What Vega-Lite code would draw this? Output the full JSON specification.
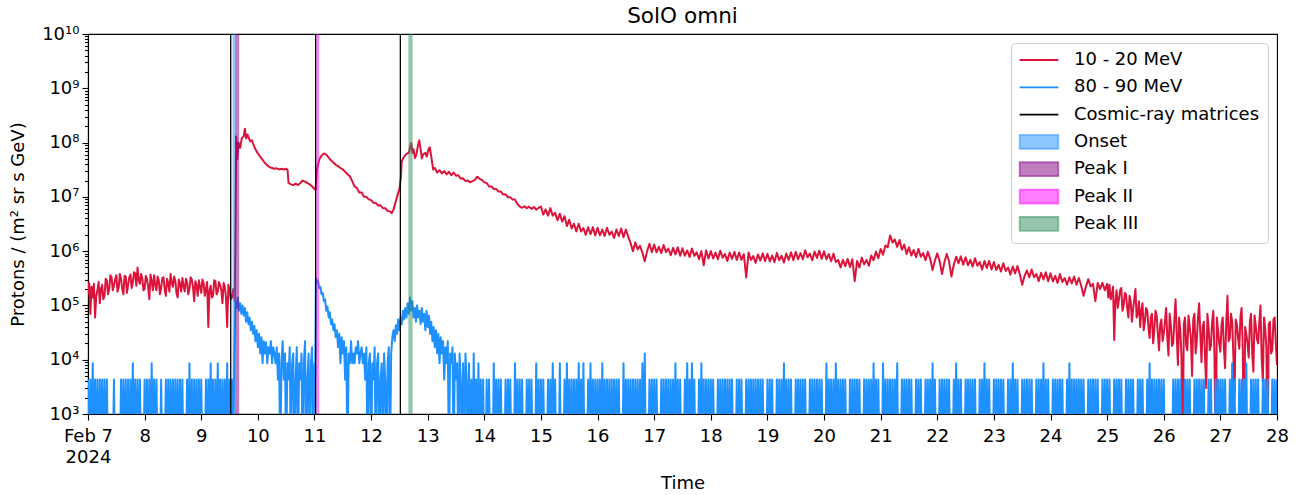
{
"$schema":"https://vega.github.io/schema/vega-lite/v6.json",
"width":1189,"height":380,
"autosize":{"type":"none"},
"padding":{"left":88,"top":34,"right":28,"bottom":81},
"background":"white",
"config":{
"font":"DejaVu Sans",
"view":{"stroke":"black","strokeWidth":1.1},
"axis":{"grid":false,"domainColor":"black","domainWidth":1.1,"tickColor":"black","tickWidth":1.1,"labelColor":"black","labelFont":"DejaVu Sans","labelFontSize":18,"titleColor":"black","titleFont":"DejaVu Sans","titleFontSize":18,"titleFontWeight":"normal","labelOverlap":false,"labelBound":false,"labelFlush":false}
},
"title":{"text":"SolO omni","fontSize":21.6,"fontWeight":"normal","font":"DejaVu Sans","color":"black","offset":-3,"anchor":"middle","frame":"group"},
"datasets":{
"red":[{"h":0,"v":1.6e5},{"h":0.5,"v":2.6e5},{"h":1,"v":7e4},{"h":1.5,"v":2.2e5},{"h":2,"v":1.4e5},{"h":2.5,"v":2.5e5},{"h":3,"v":6e4},{"h":3.5,"v":1.5e5},{"h":4,"v":1.9e5},{"h":4.5,"v":2.7e5},{"h":5,"v":1.1e5},{"h":5.5,"v":2e5},{"h":6,"v":2.4e5},{"h":6.5,"v":1.3e5},{"h":7,"v":1.5e5},{"h":7.5,"v":3.1e5},{"h":8,"v":2.9e5},{"h":8.5,"v":1.6e5},{"h":9,"v":2e5},{"h":9.5,"v":3.6e5},{"h":10,"v":3.3e5},{"h":10.5,"v":1.9e5},{"h":11,"v":2.3e5},{"h":11.5,"v":3e5},{"h":12,"v":3.6e5},{"h":12.5,"v":1.8e5},{"h":13,"v":2.1e5},{"h":13.5,"v":3.8e5},{"h":14,"v":3.1e5},{"h":14.5,"v":2e5},{"h":15,"v":1.6e5},{"h":15.5,"v":3.5e5},{"h":16,"v":3.4e5},{"h":16.5,"v":1.7e5},{"h":17,"v":2.4e5},{"h":17.5,"v":3.3e5},{"h":18,"v":3.7e5},{"h":18.5,"v":2.1e5},{"h":19,"v":2.6e5},{"h":19.5,"v":4.1e5},{"h":20,"v":3.9e5},{"h":20.5,"v":2.3e5},{"h":21,"v":5e5},{"h":21.5,"v":2.9e5},{"h":22,"v":2.5e5},{"h":22.5,"v":3.8e5},{"h":23,"v":3.2e5},{"h":23.5,"v":1.9e5},
{"h":24,"v":2e5},{"h":24.5,"v":3.5e5},{"h":25,"v":3.1e5},{"h":25.5,"v":2.2e5},{"h":26,"v":1.3e5},{"h":26.5,"v":3.7e5},{"h":27,"v":2.8e5},{"h":27.5,"v":1.9e5},{"h":28,"v":3.6e5},{"h":28.5,"v":2.4e5},{"h":29,"v":1.9e5},{"h":29.5,"v":3.4e5},{"h":30,"v":2.9e5},{"h":30.5,"v":1.6e5},{"h":31,"v":2.1e5},{"h":31.5,"v":3.2e5},{"h":32,"v":3.3e5},{"h":32.5,"v":2e5},{"h":33,"v":1.5e5},{"h":33.5,"v":3.1e5},{"h":34,"v":2.6e5},{"h":34.5,"v":1.8e5},{"h":35,"v":3.8e5},{"h":35.5,"v":2.6e5},{"h":36,"v":2.2e5},{"h":36.5,"v":3.4e5},{"h":37,"v":2.9e5},{"h":37.5,"v":1.7e5},{"h":38,"v":1.4e5},{"h":38.5,"v":3e5},{"h":39,"v":2.5e5},{"h":39.5,"v":1.8e5},{"h":40,"v":3.2e5},{"h":40.5,"v":2.3e5},{"h":41,"v":1.8e5},{"h":41.5,"v":3.1e5},{"h":42,"v":2.7e5},{"h":42.5,"v":1.6e5},{"h":43,"v":2e5},{"h":43.5,"v":3.3e5},{"h":44,"v":3e5},{"h":44.5,"v":2.2e5},{"h":45,"v":1.2e5},{"h":45.5,"v":2.8e5},{"h":46,"v":2.4e5},{"h":46.5,"v":1.5e5},{"h":47,"v":2.9e5},{"h":47.5,"v":2.2e5},
{"h":48,"v":1.7e5},{"h":48.5,"v":3e5},{"h":49,"v":2.6e5},{"h":49.5,"v":1.5e5},{"h":50,"v":2e5},{"h":50.5,"v":2.7e5},{"h":51,"v":4e4},{"h":51.5,"v":1.9e5},{"h":52,"v":2.3e5},{"h":52.5,"v":1.4e5},{"h":53,"v":1.5e5},{"h":53.5,"v":2.9e5},{"h":54,"v":2.8e5},{"h":54.5,"v":1.6e5},{"h":55,"v":1.8e5},{"h":55.5,"v":2.7e5},{"h":56,"v":2.4e5},{"h":56.5,"v":1.9e5},{"h":57,"v":1.1e5},{"h":57.5,"v":2.6e5},{"h":58,"v":2.2e5},{"h":58.5,"v":1.4e5},{"h":59,"v":4e4},{"h":59.5,"v":2.4e5},{"h":60,"v":1.9e5},{"h":60.5,"v":1.3e5},{"h":61,"v":1.4e5},{"h":61.6,"v":2e5},{"h":62.2,"v":1.2e5},{"h":62.5,"v":3e6},{"h":62.8,"v":1.3e8},{"h":63.3,"v":5e7},{"h":63.8,"v":1e8},{"h":64.5,"v":8e7},{"h":65.2,"v":1.2e8},{"h":66,"v":1.3e8},{"h":66.5,"v":1.8e8},{"h":67,"v":1.2e8},{"h":67.6,"v":1.4e8},{"h":68.2,"v":1.2e8},{"h":68.8,"v":1.05e8},{"h":69.5,"v":1.1e8},{"h":70,"v":9.5e7},{"h":71,"v":7.5e7},
{"h":72,"v":6.3e7},{"h":73,"v":5.5e7},{"h":74,"v":4.8e7},{"h":75,"v":4.2e7},{"h":76,"v":3.8e7},{"h":77,"v":3.5e7},{"h":78,"v":3.4e7},{"h":79,"v":3.3e7},{"h":80,"v":3.35e7},{"h":81,"v":3.2e7},{"h":82,"v":3.3e7},{"h":83,"v":3.2e7},{"h":84,"v":3.3e7},{"h":84.6,"v":3.1e7},{"h":85,"v":1.8e7},{"h":86,"v":1.7e7},{"h":87,"v":1.65e7},{"h":88,"v":1.75e7},{"h":89,"v":1.65e7},{"h":90,"v":1.8e7},{"h":91,"v":2e7},{"h":92,"v":1.9e7},{"h":93,"v":1.8e7},{"h":94,"v":1.7e7},{"h":95,"v":1.55e7},{"h":96,"v":1.4e7},{"h":96.5,"v":1.35e7},
{"h":97,"v":3.2e7},{"h":98,"v":4.8e7},{"h":99,"v":5.8e7},{"h":100,"v":6.3e7},{"h":101,"v":6e7},{"h":102,"v":5.3e7},{"h":103,"v":4.7e7},{"h":104,"v":4.3e7},{"h":105,"v":3.9e7},{"h":106,"v":3.7e7},{"h":107,"v":3.4e7},{"h":108,"v":3.2e7},{"h":109,"v":2.9e7},{"h":110,"v":2.6e7},{"h":111,"v":2.4e7},{"h":112,"v":1.95e7},{"h":113,"v":1.55e7},{"h":114,"v":1.45e7},{"h":115,"v":1.2e7},{"h":116,"v":1.2e7},{"h":117,"v":1e7},{"h":118,"v":1e7},{"h":119,"v":9e6},
{"h":120,"v":8.7e6},{"h":121,"v":7.8e6},{"h":122,"v":7.7e6},{"h":123,"v":6.9e6},{"h":124,"v":7e6},{"h":125,"v":6.2e6},{"h":126,"v":6.2e6},{"h":127,"v":5.5e6},{"h":128,"v":5.4e6},{"h":128.7,"v":5e6},{"h":129.5,"v":5.8e6},{"h":130,"v":7e6},{"h":131,"v":1e7},{"h":132,"v":1.4e7},{"h":132.6,"v":2.2e7},{"h":133,"v":4.5e7},{"h":134,"v":5.5e7},{"h":135,"v":6.2e7},{"h":136,"v":6.5e7},{"h":136.5,"v":8e7},{"h":137,"v":9.8e7},{"h":137.5,"v":6.5e7},{"h":138,"v":7.5e7},{"h":138.6,"v":5.2e7},{"h":139.2,"v":6e7},{"h":139.8,"v":8.5e7},{"h":140.4,"v":1.1e8},{"h":141,"v":7.5e7},{"h":141.5,"v":5.1e7},{"h":142,"v":6e7},{"h":143,"v":6.5e7},{"h":143.6,"v":5.5e7},
{"h":144.3,"v":7.5e7},{"h":144.9,"v":8.2e7},{"h":145.5,"v":5.5e7},{"h":146.3,"v":3.2e7},{"h":147,"v":3.4e7},{"h":148,"v":2.8e7},{"h":149,"v":3.1e7},{"h":150,"v":2.7e7},{"h":151,"v":3e7},{"h":152,"v":2.6e7},{"h":153,"v":2.9e7},{"h":154,"v":2.5e7},{"h":155,"v":2.8e7},{"h":156,"v":2.45e7},{"h":157,"v":2.5e7},{"h":158,"v":2.15e7},{"h":159,"v":2.2e7},{"h":160,"v":1.95e7},{"h":161,"v":2e7},{"h":162,"v":1.85e7},{"h":163,"v":1.95e7},{"h":164,"v":2.05e7},{"h":165,"v":2.35e7},{"h":166,"v":2.15e7},{"h":167,"v":2.05e7},
{"h":168,"v":1.85e7},{"h":169,"v":1.8e7},{"h":170,"v":1.55e7},{"h":171,"v":1.55e7},{"h":172,"v":1.4e7},{"h":173,"v":1.4e7},{"h":174,"v":1.25e7},{"h":175,"v":1.25e7},{"h":176,"v":1.1e7},{"h":177,"v":1.12e7},{"h":178,"v":9.8e6},{"h":179,"v":9.8e6},{"h":180,"v":8.9e6},{"h":181,"v":8.9e6},{"h":182,"v":7.4e6},{"h":183,"v":6.6e6},{"h":184,"v":6.3e6},{"h":185,"v":6.7e6},{"h":186,"v":6.2e6},{"h":187,"v":6.6e6},{"h":188,"v":6e6},{"h":189,"v":6.5e6},{"h":190,"v":5.8e6},{"h":191,"v":6.3e6},
{"h":192,"v":6.6e6},{"h":193,"v":4.7e6},{"h":194,"v":5.9e6},{"h":195,"v":4.5e6},{"h":196,"v":6.2e6},{"h":197,"v":4.5e6},{"h":198,"v":5.1e6},{"h":199,"v":3.7e6},{"h":200,"v":4.9e6},{"h":201,"v":3.5e6},{"h":202,"v":4.4e6},{"h":203,"v":2.9e6},{"h":204,"v":3.8e6},{"h":205,"v":2.6e6},{"h":206,"v":3.2e6},{"h":207,"v":2.3e6},{"h":208,"v":3.2e6},{"h":209,"v":2.3e6},{"h":210,"v":2.65e6},{"h":211,"v":2e6},{"h":212,"v":2.75e6},{"h":213,"v":2.05e6},{"h":214,"v":2.75e6},{"h":215,"v":1.95e6},
{"h":216,"v":2.7e6},{"h":217,"v":1.95e6},{"h":218,"v":2.5e6},{"h":219,"v":1.9e6},{"h":220,"v":2.7e6},{"h":221,"v":2e6},{"h":222,"v":2.3e6},{"h":223,"v":1.75e6},{"h":224,"v":2.5e6},{"h":225,"v":1.9e6},{"h":226,"v":2.6e6},{"h":227,"v":1.8e6},{"h":228,"v":2.5e6},{"h":229,"v":1.85e6},{"h":230,"v":1.4e6},{"h":231,"v":1e6},{"h":232,"v":1.45e6},{"h":233,"v":1.08e6},{"h":234,"v":1.25e6},{"h":235,"v":9.4e5},{"h":236,"v":6.5e5},{"h":237,"v":1e6},{"h":238,"v":1.37e6},{"h":239,"v":9.6e5},
{"h":240,"v":1.32e6},{"h":241,"v":9.5e5},{"h":242,"v":1.2e6},{"h":243,"v":9.2e5},{"h":244,"v":1.3e6},{"h":245,"v":9.6e5},{"h":246,"v":1.12e6},{"h":247,"v":8.4e5},{"h":248,"v":1.15e6},{"h":249,"v":8.7e5},{"h":250,"v":1.18e6},{"h":251,"v":8.2e5},{"h":252,"v":1.13e6},{"h":253,"v":8.2e5},{"h":254,"v":1.03e6},{"h":255,"v":7.8e5},{"h":256,"v":1.12e6},{"h":257,"v":8.2e5},{"h":258,"v":9.5e5},{"h":259,"v":7.1e5},{"h":260,"v":1e6},{"h":261,"v":5.5e5},{"h":262,"v":1.03e6},{"h":263,"v":7.3e5},
{"h":264,"v":1e6},{"h":265,"v":7.3e5},{"h":266,"v":9.4e5},{"h":267,"v":7.1e5},{"h":268,"v":1.02e6},{"h":269,"v":7.6e5},{"h":270,"v":8.8e5},{"h":271,"v":6.6e5},{"h":272,"v":9.4e5},{"h":273,"v":7.2e5},{"h":274,"v":9.7e5},{"h":275,"v":6.9e5},{"h":276,"v":9.4e5},{"h":277,"v":6.9e5},{"h":278,"v":8.8e5},{"h":279,"v":3.3e5},{"h":280,"v":9.4e5},{"h":281,"v":6.9e5},{"h":282,"v":8.1e5},{"h":283,"v":6.1e5},{"h":284,"v":8.7e5},{"h":285,"v":6.7e5},{"h":286,"v":9.1e5},{"h":287,"v":6.5e5},
{"h":288,"v":8.9e5},{"h":289,"v":6.5e5},{"h":290,"v":8.3e5},{"h":291,"v":6.3e5},{"h":292,"v":9.3e5},{"h":293,"v":6.8e5},{"h":294,"v":8.2e5},{"h":295,"v":6.2e5},{"h":296,"v":9e5},{"h":297,"v":6.9e5},{"h":298,"v":9.5e5},{"h":299,"v":6.8e5},{"h":300,"v":9.7e5},{"h":301,"v":7.1e5},{"h":302,"v":9.2e5},{"h":303,"v":7.1e5},{"h":304,"v":1.04e6},{"h":305,"v":7.7e5},{"h":306,"v":9e5},{"h":307,"v":6.8e5},{"h":308,"v":9.8e5},{"h":309,"v":7.5e5},{"h":310,"v":1.02e6},{"h":311,"v":7.2e5},
{"h":312,"v":9.9e5},{"h":313,"v":7.1e5},{"h":314,"v":8.8e5},{"h":315,"v":6.5e5},{"h":316,"v":9e5},{"h":317,"v":6.3e5},{"h":318,"v":6.9e5},{"h":319,"v":5e5},{"h":320,"v":6.9e5},{"h":321,"v":5.3e5},{"h":322,"v":7.2e5},{"h":323,"v":5.1e5},{"h":324,"v":7.1e5},{"h":325,"v":2.8e5},{"h":326,"v":6.6e5},{"h":327,"v":5e5},{"h":328,"v":7.6e5},{"h":329,"v":5.7e5},{"h":330,"v":6.9e5},{"h":331,"v":5.4e5},{"h":332,"v":8.3e5},{"h":333,"v":6.8e5},{"h":334,"v":9.8e5},{"h":335,"v":7.4e5},
{"h":336,"v":1.1e6},{"h":337,"v":8.6e5},{"h":338,"v":1.27e6},{"h":339,"v":1.18e6},{"h":340,"v":1.95e6},{"h":341,"v":1.44e6},{"h":342,"v":1.64e6},{"h":343,"v":1.2e6},{"h":344,"v":1.6e6},{"h":345,"v":1.06e6},{"h":346,"v":1.32e6},{"h":347,"v":8.9e5},{"h":348,"v":1.18e6},{"h":349,"v":8.3e5},{"h":350,"v":1.05e6},{"h":351,"v":7.7e5},{"h":352,"v":1.1e6},{"h":353,"v":7.9e5},{"h":354,"v":9.2e5},{"h":355,"v":6.8e5},{"h":356,"v":9.7e5},{"h":357,"v":7.2e5},{"h":358,"v":4.5e5},{"h":359,"v":6.7e5},
{"h":360,"v":9.1e5},{"h":361,"v":6.5e5},{"h":362,"v":3.8e5},{"h":363,"v":6.2e5},{"h":364,"v":8.9e5},{"h":365,"v":6.5e5},{"h":366,"v":3.4e5},{"h":367,"v":5.6e5},{"h":368,"v":7.9e5},{"h":369,"v":6e5},{"h":370,"v":8e5},{"h":371,"v":5.6e5},{"h":372,"v":7.7e5},{"h":373,"v":5.5e5},{"h":374,"v":6.9e5},{"h":375,"v":5.2e5},{"h":376,"v":7.4e5},{"h":377,"v":5.4e5},{"h":378,"v":6.3e5},{"h":379,"v":4.6e5},{"h":380,"v":6.6e5},{"h":381,"v":4.9e5},{"h":382,"v":6.6e5},{"h":383,"v":4.6e5},
{"h":384,"v":6.3e5},{"h":385,"v":4.5e5},{"h":386,"v":5.6e5},{"h":387,"v":4.2e5},{"h":388,"v":6e5},{"h":389,"v":4.3e5},{"h":390,"v":5e5},{"h":391,"v":3.7e5},{"h":392,"v":5.2e5},{"h":393,"v":3.9e5},{"h":394,"v":5.3e5},{"h":395,"v":3.7e5},{"h":396,"v":2.4e5},{"h":397,"v":3.5e5},{"h":398,"v":4.4e5},{"h":399,"v":3.3e5},{"h":400,"v":4.6e5},{"h":401,"v":3.3e5},{"h":402,"v":3.8e5},{"h":403,"v":2.8e5},{"h":404,"v":4e5},{"h":405,"v":3e5},{"h":406,"v":4.1e5},{"h":407,"v":2.8e5},
{"h":408,"v":3.9e5},{"h":409,"v":2.75e5},{"h":410,"v":3.5e5},{"h":411,"v":2.6e5},{"h":412,"v":3.8e5},{"h":413,"v":2.7e5},{"h":414,"v":3.2e5},{"h":415,"v":2.4e5},{"h":416,"v":3.3e5},{"h":417,"v":2.55e5},{"h":418,"v":3.4e5},{"h":419,"v":2.4e5},{"h":420,"v":3.2e5},{"h":421,"v":2.3e5},{"h":422,"v":1.5e5},{"h":423,"v":2.2e5},{"h":424,"v":3.05e5},{"h":425,"v":2.25e5},{"h":426,"v":2.5e5},{"h":427,"v":1.2e5},{"h":428,"v":2.6e5},{"h":429,"v":2e5},{"h":430,"v":2.6e5},{"h":431,"v":1.9e5},
{"h":432,"v":2.5e5},{"h":432.5,"v":1.4e5},{"h":433,"v":2.4e5},{"h":433.5,"v":1.3e5},{"h":434,"v":1.6e5},{"h":434.5,"v":2.2e5},{"h":435,"v":2.3e4},{"h":435.5,"v":1.2e5},{"h":436,"v":1.9e5},{"h":436.5,"v":9e4},{"h":437,"v":1.3e5},{"h":437.5,"v":1.9e5},{"h":438,"v":2.1e5},{"h":438.5,"v":8e4},{"h":439,"v":1e5},{"h":439.5,"v":1.7e5},{"h":440,"v":1.6e5},{"h":440.5,"v":9e4},{"h":441,"v":6e4},{"h":441.5,"v":1.5e5},{"h":442,"v":1.2e5},{"h":442.5,"v":5e4},{"h":443,"v":8.5e4},{"h":443.5,"v":1.3e5},{"h":444,"v":2e5},{"h":444.5,"v":6e4},{"h":445,"v":7e4},{"h":445.5,"v":1.2e5},{"h":446,"v":4e4},{"h":446.5,"v":8e4},{"h":447,"v":1.1e5},{"h":447.5,"v":3.5e4},{"h":448,"v":5e4},{"h":448.5,"v":9e4},{"h":449,"v":8e4},{"h":449.5,"v":4e4},{"h":450,"v":2.5e4},{"h":450.5,"v":6e4},{"h":451,"v":7e4},{"h":451.5,"v":2e4},{"h":452,"v":3.5e4},{"h":452.5,"v":8e4},{"h":453,"v":6.5e4},{"h":453.5,"v":3e4},{"h":454,"v":1.5e4},{"h":454.5,"v":4.5e4},{"h":455,"v":5.5e4},{"h":455.5,"v":2.2e4},
{"h":456,"v":3e4},{"h":456.5,"v":5e4},{"h":457,"v":9e4},{"h":457.5,"v":2.5e4},{"h":458,"v":1.2e4},{"h":458.5,"v":7e4},{"h":459,"v":4.5e4},{"h":459.5,"v":1.8e4},{"h":460,"v":2e4},{"h":460.5,"v":5.5e4},{"h":461,"v":1.3e5},{"h":461.5,"v":2.8e4},{"h":462,"v":8e3},{"h":462.5,"v":6e4},{"h":463,"v":3.5e4},{"h":463.5,"v":1.2e4},{"h":464,"v":100},{"h":464.5,"v":4.5e4},{"h":465,"v":6e4},{"h":465.5,"v":1.8e4},{"h":466,"v":1.5e4},{"h":466.5,"v":6.5e4},{"h":467,"v":4e4},{"h":467.5,"v":2.5e4},{"h":468,"v":5e3},{"h":468.5,"v":5.5e4},{"h":469,"v":7e4},{"h":469.5,"v":1.3e4},{"h":470,"v":2.2e4},{"h":470.5,"v":6e4},{"h":471,"v":1.1e5},{"h":471.5,"v":3e4},{"h":472,"v":9e3},{"h":472.5,"v":4e4},{"h":473,"v":5e4},{"h":473.5,"v":1.1e4},{"h":474,"v":3e3},{"h":474.5,"v":7e4},{"h":475,"v":4e4},{"h":475.5,"v":1.5e4},{"h":476,"v":1.8e4},{"h":476.5,"v":5e4},{"h":477,"v":8e4},{"h":477.5,"v":1.2e4},{"h":478,"v":100},{"h":478.5,"v":6e4},{"h":479,"v":3.5e4},{"h":479.5,"v":2e4},
{"h":480,"v":1.4e4},{"h":480.5,"v":4.5e4},{"h":481,"v":6e4},{"h":481.5,"v":1.6e4},{"h":482,"v":7e3},{"h":482.5,"v":5e4},{"h":483,"v":1.5e5},{"h":483.5,"v":2.2e4},{"h":484,"v":2.5e4},{"h":484.5,"v":7e4},{"h":485,"v":5e4},{"h":485.5,"v":1.2e4},{"h":486,"v":2e3},{"h":486.5,"v":5.5e4},{"h":487,"v":4.5e4},{"h":487.5,"v":2.5e4},{"h":488,"v":1.6e4},{"h":488.5,"v":6e4},{"h":489,"v":9e4},{"h":489.5,"v":1.5e4},{"h":490,"v":100},{"h":490.5,"v":4e4},{"h":491,"v":3e4},{"h":491.5,"v":2e4},{"h":492,"v":1.1e4},{"h":492.5,"v":5e4},{"h":493,"v":7e4},{"h":493.5,"v":1.3e4},{"h":494,"v":6e3},{"h":494.5,"v":6.5e4},{"h":495,"v":4.2e4},{"h":495.5,"v":2.4e4},{"h":496,"v":2e4},{"h":496.5,"v":5e4},{"h":497,"v":1e5},{"h":497.5,"v":1.1e4},{"h":498,"v":4e3},{"h":498.5,"v":6e4},{"h":499,"v":3.8e4},{"h":499.5,"v":1.7e4},{"h":500,"v":100},{"h":500.5,"v":4.5e4},{"h":501,"v":5e4},{"h":501.5,"v":1.3e4},{"h":502,"v":1.5e4},{"h":502.5,"v":5.5e4},{"h":503,"v":6e4},{"h":503.5,"v":2e4},{"h":504,"v":8e3}],
"blue":[{"h":0,"v":4300},{"h":0.5,"v":100},{"h":1,"v":4300},{"h":1.5,"v":100},{"h":2,"v":8600},{"h":2.5,"v":100},{"h":3,"v":4300},{"h":3.5,"v":100},{"h":4,"v":4300},{"h":4.5,"v":100},{"h":5,"v":4300},{"h":5.5,"v":100},{"h":6,"v":4300},{"h":6.5,"v":100},{"h":7,"v":4300},{"h":7.5,"v":100},{"h":8,"v":4300},{"h":8.5,"v":100},{"h":9.5,"v":100},{"h":10.5,"v":100},{"h":11,"v":4300},{"h":11.5,"v":100},{"h":12.5,"v":100},{"h":13.5,"v":100},{"h":14,"v":4300},{"h":14.5,"v":100},{"h":15,"v":4300},{"h":15.5,"v":100},{"h":16,"v":4300},{"h":16.5,"v":100},{"h":17,"v":4300},{"h":17.5,"v":100},{"h":18,"v":4300},{"h":18.5,"v":100},{"h":19,"v":8600},{"h":19.5,"v":100},{"h":20,"v":4300},{"h":20.5,"v":100},{"h":21,"v":4300},{"h":21.5,"v":100},{"h":22,"v":4300},{"h":22.5,"v":100},{"h":23.5,"v":100},{"h":24,"v":4300},{"h":24.5,"v":100},{"h":25,"v":4300},{"h":25.5,"v":100},{"h":26,"v":4300},{"h":26.5,"v":100},{"h":27,"v":8600},{"h":27.5,"v":100},{"h":28,"v":4300},{"h":28.5,"v":100},{"h":29,"v":4300},{"h":29.5,"v":100},{"h":30.5,"v":100},{"h":31,"v":4300},{"h":31.5,"v":100},{"h":32.5,"v":100},{"h":33,"v":4300},{"h":33.5,"v":100},{"h":34,"v":4300},{"h":34.5,"v":100},{"h":35,"v":4300},{"h":35.5,"v":100},{"h":36,"v":4300},{"h":36.5,"v":100},{"h":37,"v":4300},{"h":37.5,"v":100},{"h":38,"v":4300},{"h":38.5,"v":100},{"h":39,"v":4300},{"h":39.5,"v":100},{"h":40,"v":4300},{"h":40.5,"v":100},{"h":41.5,"v":100},{"h":42,"v":4300},{"h":42.5,"v":100},{"h":43,"v":8600},{"h":43.5,"v":100},{"h":44,"v":4300},{"h":44.5,"v":100},{"h":45,"v":4300},{"h":45.5,"v":100},{"h":46,"v":4300},{"h":46.5,"v":100},{"h":47,"v":4300},{"h":47.5,"v":100},{"h":48,"v":4300},{"h":48.5,"v":100},{"h":49.5,"v":100},{"h":50,"v":4300},{"h":50.5,"v":100},{"h":51,"v":4300},{"h":51.5,"v":100},{"h":52,"v":8600},{"h":52.5,"v":100},{"h":53,"v":4300},{"h":53.5,"v":100},{"h":54,"v":4300},{"h":54.5,"v":100},{"h":55,"v":8600},{"h":55.5,"v":100},{"h":56,"v":4300},{"h":56.5,"v":100},{"h":57,"v":4300},{"h":57.5,"v":100},{"h":58,"v":4300},{"h":58.5,"v":100},{"h":59,"v":8600},{"h":59.5,"v":100},{"h":60,"v":4300},{"h":60.5,"v":100},
{"h":61,"v":4300},{"h":61.5,"v":100},{"h":62,"v":1.3e4},{"h":62.5,"v":1.2e5},{"h":63,"v":9e4},{"h":63.5,"v":1.4e5},{"h":64,"v":8e4},{"h":64.5,"v":1.1e5},{"h":65,"v":7e4},{"h":65.5,"v":1e5},{"h":66,"v":6.5e4},{"h":66.5,"v":9e4},{"h":67,"v":5e4},{"h":67.5,"v":7.5e4},{"h":68,"v":4.5e4},{"h":68.5,"v":6e4},{"h":69,"v":3.5e4},{"h":69.5,"v":5e4},{"h":70,"v":3e4},{"h":70.5,"v":4.2e4},{"h":71,"v":2.2e4},{"h":71.5,"v":3.5e4},{"h":72,"v":1.7e4},{"h":72.5,"v":3e4},{"h":73,"v":1.3e4},{"h":73.5,"v":2.6e4},{"h":74,"v":8600},{"h":74.5,"v":2.2e4},{"h":75,"v":1.3e4},{"h":75.5,"v":2.1e4},{"h":76,"v":8600},{"h":76.5,"v":1.7e4},{"h":77,"v":1.3e4},{"h":77.5,"v":2.2e4},{"h":78,"v":8600},{"h":78.5,"v":1.7e4},{"h":79,"v":1.3e4},{"h":79.5,"v":8600},{"h":80,"v":1.7e4},{"h":80.5,"v":4300},{"h":81,"v":1.3e4},{"h":81.5,"v":100},{"h":82,"v":8600},{"h":82.5,"v":2.2e4},{"h":83,"v":4300},{"h":83.5,"v":1.3e4},{"h":84,"v":100},{"h":84.5,"v":8600},{"h":85,"v":4300},{"h":85.5,"v":1.7e4},{"h":86,"v":100},{"h":86.5,"v":8600},{"h":87,"v":1.3e4},{"h":87.5,"v":100},{"h":88,"v":4300},{"h":88.5,"v":1.7e4},{"h":89,"v":100},{"h":89.5,"v":8600},{"h":90,"v":4300},{"h":90.5,"v":1.3e4},{"h":91,"v":100},{"h":91.5,"v":8600},{"h":92,"v":2.2e4},{"h":92.5,"v":100},{"h":93,"v":4300},{"h":93.5,"v":1.3e4},{"h":94,"v":100},{"h":94.5,"v":8600},{"h":95,"v":1.7e4},{"h":95.5,"v":100},{"h":96,"v":8600},{"h":96.3,"v":4300},{"h":96.6,"v":3.2e5},{"h":97,"v":2.6e5},{"h":97.5,"v":2.9e5},{"h":98,"v":2.1e5},{"h":98.5,"v":2.2e5},{"h":99,"v":1.6e5},{"h":99.5,"v":1.7e5},{"h":100,"v":1.2e5},{"h":100.5,"v":1.3e5},{"h":101,"v":8e4},{"h":101.5,"v":9.5e4},{"h":102,"v":6e4},{"h":102.5,"v":7.5e4},{"h":103,"v":4.5e4},{"h":103.5,"v":5.5e4},{"h":104,"v":3.5e4},{"h":104.5,"v":4.5e4},{"h":105,"v":2.6e4},{"h":105.5,"v":3.5e4},{"h":106,"v":1.7e4},{"h":106.5,"v":3e4},{"h":107,"v":8600},{"h":107.5,"v":2.6e4},{"h":108,"v":1.3e4},{"h":108.5,"v":2.2e4},{"h":109,"v":4300},{"h":109.5,"v":1.7e4},{"h":110,"v":100},{"h":110.5,"v":1.3e4},{"h":111,"v":8600},{"h":111.5,"v":2.2e4},{"h":112,"v":8600},{"h":112.5,"v":1.3e4},{"h":113,"v":8600},{"h":113.5,"v":1.7e4},{"h":114,"v":1.3e4},{"h":114.5,"v":2.2e4},{"h":115,"v":8600},{"h":115.5,"v":1.3e4},{"h":116,"v":1.7e4},{"h":116.5,"v":8600},{"h":117,"v":1.3e4},{"h":117.5,"v":4300},{"h":118,"v":1.7e4},{"h":118.5,"v":100},{"h":119,"v":8600},{"h":119.5,"v":1.3e4},{"h":120,"v":100},{"h":120.5,"v":8600},{"h":121,"v":4300},{"h":121.5,"v":1.7e4},{"h":122,"v":100},{"h":122.5,"v":8600},{"h":123,"v":1.3e4},{"h":123.5,"v":100},{"h":124,"v":4300},{"h":124.5,"v":8600},{"h":125,"v":100},{"h":125.5,"v":1.3e4},{"h":126,"v":4300},{"h":126.5,"v":100},{"h":127,"v":8600},{"h":127.5,"v":1.7e4},{"h":128,"v":100},{"h":128.5,"v":1.3e4},{"h":129,"v":2.6e4},{"h":129.5,"v":3.5e4},{"h":130,"v":2.2e4},{"h":130.5,"v":4.3e4},{"h":131,"v":3e4},{"h":131.5,"v":5.5e4},{"h":132,"v":3.5e4},{"h":132.5,"v":6e4},{"h":133,"v":4.5e4},{"h":133.5,"v":8e4},{"h":134,"v":5.5e4},{"h":134.5,"v":9e4},{"h":135,"v":6e4},{"h":135.5,"v":1.1e5},{"h":136,"v":7e4},{"h":136.5,"v":1.4e5},{"h":137,"v":8e4},{"h":137.5,"v":1.2e5},{"h":138,"v":6e4},{"h":138.5,"v":9e4},{"h":139,"v":5e4},{"h":139.5,"v":1e5},{"h":140,"v":6e4},{"h":140.5,"v":8e4},{"h":141,"v":4.5e4},{"h":141.5,"v":9e4},{"h":142,"v":5e4},{"h":142.5,"v":7e4},{"h":143,"v":3.5e4},{"h":143.5,"v":8e4},{"h":144,"v":4e4},{"h":144.5,"v":6.5e4},{"h":145,"v":3e4},{"h":145.5,"v":5e4},{"h":146,"v":2.2e4},{"h":146.5,"v":4e4},{"h":147,"v":1.7e4},{"h":147.5,"v":3.5e4},{"h":148,"v":1.3e4},{"h":148.5,"v":3e4},{"h":149,"v":8600},{"h":149.5,"v":2.6e4},{"h":150,"v":1.3e4},{"h":150.5,"v":2.2e4},{"h":151,"v":4300},{"h":151.5,"v":1.7e4},{"h":152,"v":8600},{"h":152.5,"v":2.2e4},{"h":153,"v":100},{"h":153.5,"v":1.3e4},{"h":154,"v":8600},{"h":154.5,"v":1.7e4},{"h":155,"v":100},{"h":155.5,"v":1.3e4},{"h":156,"v":4300},{"h":156.5,"v":8600},{"h":157,"v":100},{"h":157.5,"v":1.3e4},{"h":158,"v":4300},{"h":158.5,"v":100},{"h":159,"v":8600},{"h":159.5,"v":100},{"h":160,"v":1.3e4},{"h":160.5,"v":4300},{"h":161,"v":100},{"h":161.5,"v":8600},{"h":162,"v":100},{"h":162.5,"v":4300},{"h":163,"v":100},{"h":163.5,"v":1.3e4},{"h":164,"v":100},{"h":164.5,"v":4300},{"h":165,"v":100},{"h":165.5,"v":8600},{"h":166,"v":100},{"h":166.5,"v":4300},{"h":167,"v":100},{"h":167.5,"v":4300},{"h":168,"v":100},
{"h":168.5,"v":100},{"h":169,"v":4300},{"h":169.5,"v":100},{"h":170,"v":4300},{"h":170.5,"v":100},{"h":171.5,"v":100},{"h":172,"v":8600},{"h":172.5,"v":100},{"h":173,"v":4300},{"h":173.5,"v":100},{"h":174,"v":4300},{"h":174.5,"v":100},{"h":175,"v":4300},{"h":175.5,"v":100},{"h":176.5,"v":100},{"h":177,"v":4300},{"h":177.5,"v":100},{"h":178,"v":4300},{"h":178.5,"v":100},{"h":179,"v":4300},{"h":179.5,"v":100},{"h":180.5,"v":100},{"h":181,"v":8600},{"h":181.5,"v":100},{"h":182,"v":4300},{"h":182.5,"v":100},{"h":183,"v":4300},{"h":183.5,"v":100},{"h":184,"v":4300},{"h":184.5,"v":100},{"h":185.5,"v":100},{"h":186,"v":4300},{"h":186.5,"v":100},{"h":187,"v":4300},{"h":187.5,"v":100},{"h":188,"v":4300},{"h":188.5,"v":100},{"h":189.5,"v":100},{"h":190,"v":8600},{"h":190.5,"v":100},{"h":191,"v":4300},{"h":191.5,"v":100},{"h":192,"v":4300},{"h":192.5,"v":100},{"h":193,"v":4300},{"h":193.5,"v":100},{"h":194.5,"v":100},{"h":195,"v":4300},{"h":195.5,"v":100},{"h":196,"v":4300},{"h":196.5,"v":100},{"h":197,"v":8600},{"h":197.5,"v":100},{"h":198,"v":4300},{"h":198.5,"v":100},{"h":199.5,"v":100},
{"h":200,"v":8600},{"h":200.5,"v":100},{"h":201.5,"v":100},{"h":202,"v":4300},{"h":202.5,"v":100},{"h":203,"v":8600},{"h":203.5,"v":100},{"h":204,"v":4300},{"h":204.5,"v":100},{"h":205,"v":4300},{"h":205.5,"v":100},{"h":206,"v":4300},{"h":206.5,"v":100},{"h":207,"v":4300},{"h":207.5,"v":100},{"h":208,"v":8600},{"h":208.5,"v":100},{"h":209,"v":4300},{"h":209.5,"v":100},{"h":210,"v":8600},{"h":210.5,"v":100},{"h":211.5,"v":100},{"h":212,"v":4300},{"h":212.5,"v":100},{"h":213,"v":8600},{"h":213.5,"v":100},{"h":214,"v":4300},{"h":214.5,"v":100},{"h":215,"v":4300},{"h":215.5,"v":100},{"h":216,"v":4300},{"h":216.5,"v":100},{"h":217,"v":4300},{"h":217.5,"v":100},{"h":218,"v":8600},{"h":218.5,"v":100},{"h":219,"v":4300},{"h":219.5,"v":100},{"h":220,"v":4300},{"h":220.5,"v":100},{"h":221,"v":4300},{"h":221.5,"v":100},{"h":222,"v":4300},{"h":222.5,"v":100},{"h":223,"v":4300},{"h":223.5,"v":100},{"h":224,"v":4300},{"h":224.5,"v":100},{"h":225,"v":4300},{"h":225.5,"v":100},{"h":226.5,"v":100},{"h":227,"v":8600},{"h":227.5,"v":100},{"h":228,"v":4300},{"h":228.5,"v":100},{"h":229,"v":4300},{"h":229.5,"v":100},{"h":230,"v":4300},{"h":230.5,"v":100},{"h":231,"v":4300},{"h":231.5,"v":100},{"h":232,"v":4300},{"h":232.5,"v":100},{"h":233,"v":4300},{"h":233.5,"v":100},{"h":234,"v":4300},{"h":234.5,"v":100},{"h":235,"v":8600},{"h":235.5,"v":100},{"h":236,"v":13000},{"h":236.5,"v":100},{"h":237.5,"v":100},{"h":238,"v":4300},{"h":238.5,"v":100},{"h":239,"v":4300},{"h":239.5,"v":100},{"h":240,"v":4300},{"h":240.5,"v":100},{"h":241,"v":4300},{"h":241.5,"v":100},{"h":242.5,"v":100},{"h":243,"v":4300},{"h":243.5,"v":100},{"h":244,"v":4300},{"h":244.5,"v":100},{"h":245,"v":4300},{"h":245.5,"v":100},{"h":246,"v":4300},{"h":246.5,"v":100},{"h":247,"v":4300},{"h":247.5,"v":100},{"h":248,"v":4300},{"h":248.5,"v":100},{"h":249,"v":8600},{"h":249.5,"v":100},{"h":250,"v":4300},{"h":250.5,"v":100},{"h":251,"v":4300},{"h":251.5,"v":100},{"h":252.5,"v":100},{"h":253,"v":4300},{"h":253.5,"v":100},{"h":254,"v":8600},{"h":254.5,"v":100},{"h":255,"v":4300},{"h":255.5,"v":100},{"h":256,"v":8600},{"h":256.5,"v":100},{"h":257,"v":4300},{"h":257.5,"v":100},{"h":258.5,"v":100},{"h":259,"v":4300},{"h":259.5,"v":100},{"h":260,"v":8600},{"h":260.5,"v":100},{"h":261,"v":4300},{"h":261.5,"v":100},{"h":262,"v":4300},{"h":262.5,"v":100},{"h":263,"v":4300},{"h":263.5,"v":100},{"h":264,"v":4300},{"h":264.5,"v":100},{"h":265,"v":4300},{"h":265.5,"v":100},{"h":266.5,"v":100},{"h":267,"v":4300},{"h":267.5,"v":100},{"h":268,"v":4300},{"h":268.5,"v":100},{"h":269,"v":4300},{"h":269.5,"v":100},{"h":270,"v":4300},{"h":270.5,"v":100},{"h":271,"v":4300},{"h":271.5,"v":100},{"h":272,"v":4300},{"h":272.5,"v":100},{"h":273,"v":4300},{"h":273.5,"v":100},{"h":274.5,"v":100},{"h":275,"v":4300},{"h":275.5,"v":100},{"h":276,"v":4300},{"h":276.5,"v":100},{"h":277,"v":4300},{"h":277.5,"v":100},{"h":278.5,"v":100},{"h":279,"v":4300},{"h":279.5,"v":100},{"h":280,"v":4300},{"h":280.5,"v":100},{"h":281,"v":4300},{"h":281.5,"v":100},{"h":282,"v":4300},{"h":282.5,"v":100},{"h":283,"v":4300},{"h":283.5,"v":100},{"h":284,"v":4300},{"h":284.5,"v":100},{"h":285,"v":4300},{"h":285.5,"v":100},{"h":286,"v":4300},{"h":286.5,"v":100},{"h":287.5,"v":100},{"h":288,"v":4300},{"h":288.5,"v":100},{"h":289,"v":4300},{"h":289.5,"v":100},{"h":290,"v":4300},{"h":290.5,"v":100},{"h":291.5,"v":100},{"h":292,"v":4300},{"h":292.5,"v":100},{"h":293,"v":4300},{"h":293.5,"v":100},{"h":294,"v":4300},{"h":294.5,"v":100},{"h":295,"v":8600},{"h":295.5,"v":100},{"h":296,"v":4300},{"h":296.5,"v":100},{"h":297,"v":4300},{"h":297.5,"v":100},{"h":298,"v":4300},{"h":298.5,"v":100},{"h":299.5,"v":100},{"h":300,"v":4300},{"h":300.5,"v":100},{"h":301,"v":4300},{"h":301.5,"v":100},{"h":302,"v":4300},{"h":302.5,"v":100},{"h":303,"v":4300},{"h":303.5,"v":100},{"h":304,"v":4300},{"h":304.5,"v":100},{"h":305.5,"v":100},{"h":306,"v":4300},{"h":306.5,"v":100},{"h":307,"v":4300},{"h":307.5,"v":100},{"h":308,"v":4300},{"h":308.5,"v":100},{"h":309,"v":4300},{"h":309.5,"v":100},{"h":310,"v":4300},{"h":310.5,"v":100},{"h":311,"v":4300},{"h":311.5,"v":100},{"h":312.5,"v":100},{"h":313,"v":8600},{"h":313.5,"v":100},{"h":314,"v":4300},{"h":314.5,"v":100},{"h":315,"v":4300},{"h":315.5,"v":100},{"h":316,"v":4300},{"h":316.5,"v":100},{"h":317,"v":8600},{"h":317.5,"v":100},{"h":318,"v":4300},{"h":318.5,"v":100},{"h":319,"v":4300},{"h":319.5,"v":100},{"h":320,"v":4300},{"h":320.5,"v":100},{"h":321,"v":4300},{"h":321.5,"v":100},{"h":322.5,"v":100},{"h":323,"v":4300},{"h":323.5,"v":100},{"h":324,"v":4300},{"h":324.5,"v":100},{"h":325,"v":4300},{"h":325.5,"v":100},{"h":326,"v":4300},{"h":326.5,"v":100},{"h":327,"v":4300},{"h":327.5,"v":100},{"h":328.5,"v":100},{"h":329,"v":4300},{"h":329.5,"v":100},{"h":330,"v":4300},{"h":330.5,"v":100},{"h":331,"v":4300},{"h":331.5,"v":100},{"h":332,"v":4300},{"h":332.5,"v":100},{"h":333,"v":8600},{"h":333.5,"v":100},{"h":334,"v":4300},{"h":334.5,"v":100},{"h":335,"v":4300},{"h":335.5,"v":100},{"h":336.5,"v":100},{"h":337,"v":8600},{"h":337.5,"v":100},{"h":338,"v":4300},{"h":338.5,"v":100},{"h":339,"v":4300},{"h":339.5,"v":100},{"h":340,"v":4300},{"h":340.5,"v":100},{"h":341,"v":4300},{"h":341.5,"v":100},{"h":342,"v":4300},{"h":342.5,"v":100},{"h":343,"v":8600},{"h":343.5,"v":100},{"h":344.5,"v":100},{"h":345,"v":4300},{"h":345.5,"v":100},{"h":346,"v":4300},{"h":346.5,"v":100},{"h":347,"v":4300},{"h":347.5,"v":100},{"h":348,"v":4300},{"h":348.5,"v":100},{"h":349,"v":4300},{"h":349.5,"v":100},{"h":350.5,"v":100},{"h":351,"v":4300},{"h":351.5,"v":100},{"h":352,"v":4300},{"h":352.5,"v":100},{"h":353,"v":4300},{"h":353.5,"v":100},{"h":354.5,"v":100},{"h":355,"v":4300},{"h":355.5,"v":100},{"h":356,"v":4300},{"h":356.5,"v":100},{"h":357,"v":4300},{"h":357.5,"v":100},{"h":358,"v":8600},{"h":358.5,"v":100},{"h":359,"v":4300},{"h":359.5,"v":100},{"h":360.5,"v":100},{"h":361,"v":4300},{"h":361.5,"v":100},{"h":362,"v":4300},{"h":362.5,"v":100},{"h":363,"v":4300},{"h":363.5,"v":100},{"h":364,"v":4300},{"h":364.5,"v":100},{"h":365,"v":4300},{"h":365.5,"v":100},{"h":366.5,"v":100},{"h":367,"v":4300},{"h":367.5,"v":100},{"h":368,"v":8600},{"h":368.5,"v":100},{"h":369,"v":4300},{"h":369.5,"v":100},{"h":370,"v":4300},{"h":370.5,"v":100},{"h":371.5,"v":100},{"h":372,"v":4300},{"h":372.5,"v":100},{"h":373,"v":4300},{"h":373.5,"v":100},{"h":374,"v":4300},{"h":374.5,"v":100},{"h":375,"v":4300},{"h":375.5,"v":100},{"h":376,"v":4300},{"h":376.5,"v":100},{"h":377.5,"v":100},{"h":378,"v":4300},{"h":378.5,"v":100},{"h":379,"v":4300},{"h":379.5,"v":100},{"h":380,"v":8600},{"h":380.5,"v":100},{"h":381,"v":4300},{"h":381.5,"v":100},{"h":382,"v":4300},{"h":382.5,"v":100},{"h":383.5,"v":100},{"h":384,"v":4300},{"h":384.5,"v":100},{"h":385,"v":4300},{"h":385.5,"v":100},{"h":386,"v":4300},{"h":386.5,"v":100},{"h":387,"v":4300},{"h":387.5,"v":100},{"h":388,"v":4300},{"h":388.5,"v":100},{"h":389.5,"v":100},{"h":390,"v":4300},{"h":390.5,"v":100},{"h":391,"v":4300},{"h":391.5,"v":100},{"h":392,"v":8600},{"h":392.5,"v":100},{"h":393,"v":4300},{"h":393.5,"v":100},{"h":394,"v":4300},{"h":394.5,"v":100},{"h":395.5,"v":100},{"h":396,"v":4300},{"h":396.5,"v":100},{"h":397,"v":4300},{"h":397.5,"v":100},{"h":398,"v":4300},{"h":398.5,"v":100},{"h":399,"v":4300},{"h":399.5,"v":100},{"h":400,"v":4300},{"h":400.5,"v":100},{"h":401.5,"v":100},{"h":402,"v":4300},{"h":402.5,"v":100},{"h":403,"v":4300},{"h":403.5,"v":100},{"h":404,"v":4300},{"h":404.5,"v":100},{"h":405,"v":8600},{"h":405.5,"v":100},{"h":406,"v":4300},{"h":406.5,"v":100},{"h":407,"v":4300},{"h":407.5,"v":100},{"h":408.5,"v":100},{"h":409,"v":4300},{"h":409.5,"v":100},{"h":410,"v":4300},{"h":410.5,"v":100},{"h":411,"v":4300},{"h":411.5,"v":100},{"h":412,"v":4300},{"h":412.5,"v":100},{"h":413,"v":4300},{"h":413.5,"v":100},{"h":414.5,"v":100},{"h":415,"v":4300},{"h":415.5,"v":100},{"h":416,"v":8600},{"h":416.5,"v":100},{"h":417,"v":4300},{"h":417.5,"v":100},{"h":418,"v":4300},{"h":418.5,"v":100},{"h":419,"v":4300},{"h":419.5,"v":100},{"h":420,"v":4300},{"h":420.5,"v":100},{"h":421,"v":4300},{"h":421.5,"v":100},{"h":422,"v":4300},{"h":422.5,"v":100},{"h":423.5,"v":100},{"h":424,"v":4300},{"h":424.5,"v":100},{"h":425,"v":4300},{"h":425.5,"v":100},{"h":426,"v":4300},{"h":426.5,"v":100},{"h":427,"v":4300},{"h":427.5,"v":100},{"h":428,"v":4300},{"h":428.5,"v":100},{"h":429.5,"v":100},{"h":430,"v":4300},{"h":430.5,"v":100},{"h":431,"v":4300},{"h":431.5,"v":100},{"h":432,"v":4300},{"h":432.5,"v":100},{"h":433,"v":4300},{"h":433.5,"v":100},{"h":434.5,"v":100},{"h":435,"v":4300},{"h":435.5,"v":100},{"h":436,"v":4300},{"h":436.5,"v":100},{"h":437,"v":4300},{"h":437.5,"v":100},{"h":438,"v":4300},{"h":438.5,"v":100},{"h":439.5,"v":100},{"h":440,"v":4300},{"h":440.5,"v":100},{"h":441,"v":4300},{"h":441.5,"v":100},{"h":442,"v":4300},{"h":442.5,"v":100},{"h":443,"v":4300},{"h":443.5,"v":100},{"h":444.5,"v":100},{"h":445,"v":4300},{"h":445.5,"v":100},{"h":446,"v":4300},{"h":446.5,"v":100},{"h":447,"v":4300},{"h":447.5,"v":100},{"h":448.5,"v":100},{"h":449,"v":4300},{"h":449.5,"v":100},{"h":450,"v":8600},{"h":450.5,"v":100},{"h":451,"v":4300},{"h":451.5,"v":100},{"h":452,"v":4300},{"h":452.5,"v":100},{"h":453,"v":4300},{"h":453.5,"v":100},{"h":454,"v":4300},{"h":454.5,"v":100},{"h":455,"v":4300},{"h":455.5,"v":100},{"h":456,"v":4300},{"h":456.5,"v":100},{"h":459.5,"v":100},{"h":460,"v":4300},{"h":460.5,"v":100},{"h":461,"v":4300},{"h":461.5,"v":100},{"h":462,"v":4300},{"h":462.5,"v":100},{"h":463,"v":4300},{"h":463.5,"v":100},{"h":464.5,"v":100},{"h":465,"v":4300},{"h":465.5,"v":100},{"h":466,"v":4300},{"h":466.5,"v":100},{"h":467,"v":4300},{"h":467.5,"v":100},{"h":468.5,"v":100},{"h":469,"v":4300},{"h":469.5,"v":100},{"h":470,"v":4300},{"h":470.5,"v":100},{"h":471,"v":4300},{"h":471.5,"v":100},{"h":472,"v":4300},{"h":472.5,"v":100},{"h":473,"v":4300},{"h":473.5,"v":100},{"h":474.5,"v":100},{"h":475,"v":4300},{"h":475.5,"v":100},{"h":476,"v":4300},{"h":476.5,"v":100},{"h":477.5,"v":100},{"h":478,"v":4300},{"h":478.5,"v":100},{"h":479,"v":4300},{"h":479.5,"v":100},{"h":480,"v":4300},{"h":480.5,"v":100},{"h":481,"v":4300},{"h":481.5,"v":100},{"h":482,"v":4300},{"h":482.5,"v":100},{"h":483.5,"v":100},{"h":484,"v":4300},{"h":484.5,"v":100},{"h":485,"v":8600},{"h":485.5,"v":100},{"h":486,"v":4300},{"h":486.5,"v":100},{"h":487.5,"v":100},{"h":488,"v":4300},{"h":488.5,"v":100},{"h":489,"v":4300},{"h":489.5,"v":100},{"h":490,"v":4300},{"h":490.5,"v":100},{"h":491,"v":8600},{"h":491.5,"v":100},{"h":492.5,"v":100},{"h":493,"v":4300},{"h":493.5,"v":100},{"h":494,"v":4300},{"h":494.5,"v":100},{"h":495,"v":4300},{"h":495.5,"v":100},{"h":496,"v":4300},{"h":496.5,"v":100},{"h":497.5,"v":100},{"h":498,"v":4300},{"h":498.5,"v":100},{"h":499,"v":4300},{"h":499.5,"v":100},{"h":500,"v":4300},{"h":500.5,"v":100},{"h":501.5,"v":100},{"h":502,"v":4300},{"h":502.5,"v":100},{"h":503,"v":4300},{"h":503.5,"v":100},{"h":504,"v":4300}],
"cr":[{"s":"Cosmic-ray matrices","h":60.5},{"s":"Cosmic-ray matrices","h":96.5},{"s":"Cosmic-ray matrices","h":132.4}],
"spans":[{"s":"Onset","h":61.3,"h2":62.3},{"s":"Peak I","h":62.3,"h2":64.1},{"s":"Peak II","h":96.8,"h2":98.0},{"s":"Peak III","h":135.8,"h2":137.6}]
},
"layer":[
{"data":{"name":"red"},"mark":{"type":"line","strokeWidth":2,"clip":true,"strokeJoin":"round"},
"encoding":{
"x":{"field":"h","type":"quantitative","title":"Time","scale":{"domain":[0,504],"nice":false,"zero":false},
"axis":{"values":[0,6,12,18,24,30,36,42,48,54,60,66,72,78,84,90,96,102,108,114,120,126,132,138,144,150,156,162,168,174,180,186,192,198,204,210,216,222,228,234,240,246,252,258,264,270,276,282,288,294,300,306,312,318,324,330,336,342,348,354,360,366,372,378,384,390,396,402,408,414,420,426,432,438,444,450,456,462,468,474,480,486,492,498,504],
"labelExpr":"datum.value % 24 === 0 ? (datum.value === 0 ? ['Feb 7','2024'] : '' + (7 + datum.value / 24)) : ''",
"tickSize":{"condition":{"test":"datum.value % 24 === 0","value":6},"value":3.5},
"labelPadding":7,"labelLineHeight":21,"titlePadding":8}},
"y":{"field":"v","type":"quantitative","title":"Protons / (m² sr s GeV)","scale":{"type":"log","domain":[1000,1e10],"nice":false},
"axis":{"values":[1000,2000,3000,4000,5000,6000,7000,8000,9000,1e4,2e4,3e4,4e4,5e4,6e4,7e4,8e4,9e4,1e5,2e5,3e5,4e5,5e5,6e5,7e5,8e5,9e5,1e6,2e6,3e6,4e6,5e6,6e6,7e6,8e6,9e6,1e7,2e7,3e7,4e7,5e7,6e7,7e7,8e7,9e7,1e8,2e8,3e8,4e8,5e8,6e8,7e8,8e8,9e8,1e9,2e9,3e9,4e9,5e9,6e9,7e9,8e9,9e9,1e10],
"labelExpr":"abs(log(datum.value)/LN10 - round(log(datum.value)/LN10)) < 0.001 ? ['10³','10⁴','10⁵','10⁶','10⁷','10⁸','10⁹','10¹⁰'][round(log(datum.value)/LN10) - 3] : ''",
"tickSize":{"condition":{"test":"abs(log(datum.value)/LN10 - round(log(datum.value)/LN10)) < 0.001","value":6},"value":3.5},
"labelPadding":3,"titlePadding":14}},
"color":{"datum":"10 - 20 MeV","type":"nominal","title":null,
"scale":{"domain":["10 - 20 MeV","80 - 90 MeV","Cosmic-ray matrices","Onset","Peak I","Peak II","Peak III"],"range":["#dc143c","#1e90ff","#000000","rgba(30,144,255,0.5)","rgba(128,0,128,0.5)","rgba(255,0,255,0.5)","rgba(46,139,87,0.5)"]},
"legend":{"title":null,"orient":"top-right","offset":9,"padding":8,"labelFontSize":18,"labelFont":"DejaVu Sans","labelColor":"black","strokeColor":"#cccccc","fillColor":"rgba(255,255,255,0.8)","cornerRadius":4,"rowPadding":5.3,"gridAlign":"all","symbolSize":225,"symbolOffset":11,"labelOffset":26,"labelLimit":400,
"encode":{"symbols":{"update":{
"shape":{"signal":"indexof(['Onset','Peak I','Peak II','Peak III'], datum.value) >= 0 ? 'M-2.58,-0.93H2.58V0.93H-2.58Z' : 'M-2.58,0H2.58'"},
"fill":{"signal":"indexof(['Onset','Peak I','Peak II','Peak III'], datum.value) >= 0 ? scale('color', datum.value) : 'transparent'"},
"stroke":{"signal":"indexof(['Onset','Peak I','Peak II','Peak III'], datum.value) >= 0 ? 'transparent' : scale('color', datum.value)"},
"strokeWidth":{"value":1.8},"opacity":{"value":1},"fillOpacity":{"value":1},"strokeOpacity":{"value":1},"size":{"value":225}}}}}}}},
{"data":{"name":"blue"},"mark":{"type":"line","strokeWidth":2,"clip":true,"strokeJoin":"round"},
"encoding":{"x":{"field":"h","type":"quantitative","title":"Time"},"y":{"field":"v","type":"quantitative","title":"Protons / (m² sr s GeV)"},"color":{"datum":"80 - 90 MeV","type":"nominal","title":null}}},
{"data":{"name":"spans"},"mark":{"type":"rect"},
"encoding":{"x":{"field":"h","type":"quantitative","title":"Time"},"x2":{"field":"h2"},"color":{"field":"s","type":"nominal","title":null}}},
{"data":{"name":"cr"},"mark":{"type":"rule","strokeWidth":1.3},
"encoding":{"x":{"field":"h","type":"quantitative","title":"Time"},"color":{"field":"s","type":"nominal","title":null}}}
]
}
